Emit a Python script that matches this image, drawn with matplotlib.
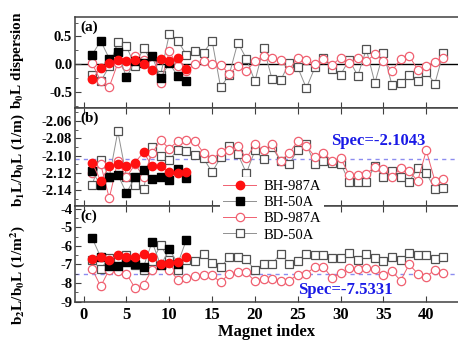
import numpy as np
import matplotlib
matplotlib.use("Agg")
import matplotlib.pyplot as plt
from matplotlib.ticker import MultipleLocator, FormatStrFormatter

plt.rcParams['font.family'] = ['Liberation Serif', 'DejaVu Serif']
plt.rcParams['mathtext.fontset'] = 'stix'
plt.rcParams['mathtext.default'] = 'bf'
plt.rcParams['axes.unicode_minus'] = False

# magnet index
idx_bh = np.arange(1, 13)
idx_bd = np.arange(1, 43)

# (a) b0L dispersion
a_bh987 = [-0.27, -0.07, 0.03, 0.08, 0.05, 0.07, 0.01, -0.10, 0.10, 0.05, 0.11, -0.08]
a_bh50 = [0.17, 0.42, 0.10, 0.22, -0.24, 0.06, 0.03, 0.14, -0.25, 0.02, -0.22, -0.30]
a_bd987 = [0.02, -0.31, -0.41, 0.02, -0.03, 0.15, 0.07, 0.00, -0.34, 0.23, -0.04, -0.12,
           0.00, 0.06, 0.00, -0.01, -0.18, -0.03, -0.12, 0.05, 0.15, 0.11, 0.07, -0.10,
           0.12, 0.07, 0.00, 0.10, -0.02, 0.12, 0.02, 0.12, 0.05, 0.18, 0.06, -0.12,
           0.09, 0.15, -0.10, -0.03, 0.04, 0.12]
a_bd50 = [-0.19, -0.31, -0.04, 0.40, 0.32, -0.03, 0.29, 0.03, -0.19, 0.54, 0.42, 0.17,
          0.24, 0.21, 0.42, -0.42, -0.19, 0.39, 0.10, -0.31, 0.30, -0.27, -0.29, 0.02,
          -0.06, -0.43, -0.06, 0.12, -0.09, -0.19, 0.08, -0.21, 0.27, -0.34, 0.21, -0.38,
          -0.34, -0.20, -0.31, -0.14, -0.35, 0.21]

# (b) b1L/b0L
b_bh987 = [-2.108, -2.129, -2.112, -2.110, -2.112, -2.108, -2.096, -2.112, -2.112, -2.119, -2.120, -2.119]
b_bh50 = [-2.118, -2.134, -2.124, -2.122, -2.143, -2.125, -2.116, -2.127, -2.124, -2.128, -2.115, -2.126]
b_bd987 = [-2.120, -2.110, -2.149, -2.106, -2.125, -2.110, -2.124, -2.097, -2.082, -2.092, -2.083, -2.082,
           -2.083, -2.097, -2.104, -2.096, -2.093, -2.089, -2.103, -2.087, -2.094, -2.087, -2.106, -2.097,
           -2.083, -2.089, -2.101, -2.097, -2.106, -2.103, -2.122, -2.122, -2.121, -2.113, -2.115, -2.125,
           -2.114, -2.118, -2.129, -2.094, -2.129, -2.127]
b_bd50 = [-2.1335, -2.105, -2.125, -2.072, -2.124, -2.1335, -2.1385, -2.090, -2.100, -2.105, -2.093, -2.095,
          -2.099, -2.103, -2.119, -2.102, -2.0885, -2.098, -2.120, -2.094, -2.104, -2.090, -2.1065, -2.110,
          -2.093, -2.087, -2.110, -2.106, -2.1085, -2.109, -2.130, -2.130, -2.130, -2.1115, -2.125, -2.118,
          -2.124, -2.130, -2.114, -2.120, -2.1385, -2.137]
spec_b = -2.1043

# (c) b2L/b0L
c_bh987 = [-6.70, -6.62, -6.75, -6.48, -6.62, -6.58, -6.45, -6.60, -7.00, -6.92, -6.87, -6.60]
c_bh50 = [-5.58, -6.60, -7.09, -7.09, -6.85, -7.00, -7.12, -5.78, -7.05, -6.18, -6.95, -5.67]
c_bd987 = [-7.24, -8.18, -7.27, -7.36, -7.49, -8.27, -8.09, -7.27, -6.95, -7.27, -7.82, -7.73,
           -7.62, -7.55, -7.58, -7.96, -7.49, -7.42, -7.42, -7.91, -7.78, -7.78, -7.87, -7.87,
           -7.55, -7.49, -7.13, -7.13, -7.73, -7.45, -7.18, -7.24, -7.18, -7.24, -7.55, -7.36,
           -7.87, -7.00, -7.49, -7.67, -7.27, -7.45]
c_bd50 = [-6.78, -7.24, -6.64, -6.73, -6.49, -7.05, -7.27, -6.82, -5.96, -6.78, -7.31, -6.78,
          -6.82, -6.45, -6.91, -7.15, -6.60, -6.60, -6.73, -7.31, -7.00, -6.96, -6.42, -6.96,
          -6.82, -6.42, -6.51, -6.51, -6.64, -6.64, -6.36, -6.78, -6.45, -6.64, -6.82, -6.60,
          -6.78, -6.36, -6.51, -6.51, -6.73, -6.60]
spec_c = -7.5331

RED = "#ff1010"
PINK = "#f06070"
GRAY = "#505050"
LGRAY = "#909090"
SPEC = "#8c8cf0"

fig = plt.figure(figsize=(4.58, 3.42), dpi=100)
L, W = 75 / 458, 1 - 75 / 458
ax_a = fig.add_axes([L, 1 - 108 / 342, W, 91 / 342])
ax_b = fig.add_axes([L, 1 - 206 / 342, W, 98 / 342])
ax_c = fig.add_axes([L, 1 - 302 / 342, W, 96 / 342])


def draw(ax, bh987, bh50, bd987, bd50):
    ax.plot(idx_bd, bd50, "-s", color=LGRAY, lw=0.7, ms=5.5, mfc="white", mec=GRAY, mew=0.9, label="BD-50A")
    ax.plot(idx_bd, bd987, "-o", color=PINK, lw=0.7, ms=6, mfc="white", mec=PINK, mew=0.9, label="BD-987A")
    ax.plot(idx_bh, bh50, "-s", color=LGRAY, lw=0.7, ms=5.5, mfc="black", mec="black", label="BH-50A")
    ax.plot(idx_bh, bh987, "-o", color=PINK, lw=0.7, ms=6, mfc=RED, mec=RED, label="BH-987A")


draw(ax_a, a_bh987, a_bh50, a_bd987, a_bd50)
draw(ax_b, b_bh987, b_bh50, b_bd987, b_bd50)
draw(ax_c, c_bh987, c_bh50, c_bd987, c_bd50)

ax_a.axhline(0, color="black", lw=1, zorder=0)
ax_b.axhline(spec_b, color=SPEC, lw=1, ls=(0, (3, 3)), zorder=0)
ax_c.axhline(spec_c, color=SPEC, lw=1, ls=(0, (3, 3)), zorder=0)

ax_a.set_ylim(-0.79, 0.85)
ax_b.set_ylim(-2.158, -2.045)
ax_c.set_ylim(-9.02, -3.85)

ax_a.yaxis.set_major_locator(MultipleLocator(0.5))
ax_a.yaxis.set_minor_locator(MultipleLocator(0.25))
ax_a.yaxis.set_major_formatter(FormatStrFormatter("%.1f"))
ax_b.yaxis.set_major_locator(MultipleLocator(0.02))
ax_b.yaxis.set_minor_locator(MultipleLocator(0.01))
ax_b.yaxis.set_major_formatter(FormatStrFormatter("%.2f"))
ax_c.yaxis.set_major_locator(MultipleLocator(1))
ax_c.yaxis.set_minor_locator(MultipleLocator(0.5))

for ax, lab in zip([ax_a, ax_b, ax_c], ["(a)", "(b)", "(c)"]):
    ax.set_xlim(-1, 43.7)
    ax.xaxis.set_major_locator(MultipleLocator(5))
    ax.spines["right"].set_visible(False)
    for s in ax.spines.values():
        s.set_color("#404040")
        s.set_linewidth(1.1)
    ax.tick_params(axis="both", which="both", direction="in", color="#404040")
    ax.tick_params(axis="x", which="major", length=4, top=(ax is not ax_a))
    ax.tick_params(axis="y", which="major", length=4)
    ax.tick_params(axis="y", which="minor", length=2.5)
    ax.tick_params(axis="y", labelsize=10.5, pad=2)
    for t in ax.get_yticklabels():
        t.set_fontweight("bold")
    ax.text(0.015, 0.96, lab, transform=ax.transAxes, ha="left", va="top",
            fontsize=11, fontweight="bold")

ax_a.tick_params(axis="x", labelbottom=False)
ax_b.tick_params(axis="x", labelbottom=False)
ax_c.tick_params(axis="x", labelsize=12)
for t in ax_c.get_xticklabels():
    t.set_fontweight("bold")
ax_c.set_xlabel("Magnet index", fontsize=12, fontweight="bold", labelpad=1)

ax_b.text(34.4, -2.0835, "Spec=-2.1043", color="#1a1ae6", fontsize=12,
          fontweight="bold", ha="center", va="center")
ax_c.text(30.6, -8.37, "Spec=-7.5331", color="#1a1ae6", fontsize=12,
          fontweight="bold", ha="center", va="center")

fig.text(18 / 458, 1 - 60 / 342, r"b$_0$L dispersion", rotation=90, ha="center", va="center",
         fontsize=11, fontweight="bold")
fig.text(18 / 458, 1 - 160 / 342, r"b$_1$L/b$_0$L (1/m)", rotation=90, ha="center", va="center",
         fontsize=11, fontweight="bold")
fig.text(18 / 458, 1 - 275 / 342, r"b$_2$L/b$_0$L (1/m$^2$)", rotation=90, ha="center", va="center",
         fontsize=11, fontweight="bold")

h, l = ax_a.get_legend_handles_labels()
order = [3, 2, 1, 0]
leg = fig.legend([h[i] for i in order], [l[i] for i in order], loc="upper left",
                 bbox_to_anchor=(220 / 458, 1 - 177 / 342), frameon=True, fontsize=10.5,
                 labelspacing=0.2, handlelength=2.3, handletextpad=0.5, borderpad=0.2,
                 borderaxespad=0)
leg.get_frame().set_facecolor("white")
leg.get_frame().set_edgecolor("none")
leg.get_frame().set_alpha(1)

fig.savefig("out.png", dpi=100)
